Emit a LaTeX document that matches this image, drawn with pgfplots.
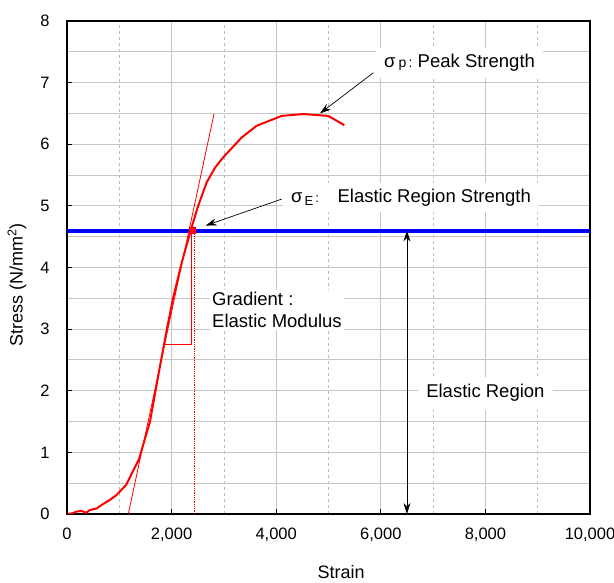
\documentclass[border=0pt]{standalone}
\usepackage{pgfplots}
\pgfplotsset{compat=1.18}
\usepackage{fontspec}
\setmainfont{Liberation Sans}
\usetikzlibrary{arrows.meta}
\newcommand{\annfont}{\fontsize{18.5}{22}\selectfont}
\begin{document}
\begin{tikzpicture}
\path[use as bounding box] (-67pt,-69pt) rectangle (547pt,514pt);
\begin{axis}[
  at={(0,0)}, anchor=south west,
  scale only axis, width=523pt, height=493pt,
  xmin=0, xmax=10000, ymin=0, ymax=8,
  xtick={0,2000,4000,6000,8000,10000}, minor x tick num=1,
  ytick={0,1,2,3,4,5,6,7,8}, minor y tick num=1,
  scaled x ticks=false,
  /pgf/number format/1000 sep={,},
  /pgf/number format/assume math mode=true,
  tick align=inside, major tick length=5pt, minor tick length=0pt,
  xtick pos=bottom, ytick pos=left,
  axis line style={line width=1.6pt},
  major tick style={black, line width=0.8pt},
  grid=both,
  major grid style={gray!45, line width=0.9pt},
  minor y grid style={gray!45, line width=0.9pt},
  minor x grid style={gray!50, dashed, line width=0.6pt},
  ticklabel style={font=\fontsize{16.5}{18}\selectfont},
  xticklabel style={yshift=-10pt},
  yticklabel style={xshift=-14pt},
  xlabel={Strain},
  ylabel={Stress (N/mm\textsuperscript{2})},
  label style={font=\fontsize{18}{20}\selectfont},
  xlabel style={at={(axis description cs:0.524,0)}, anchor=center, yshift=-58pt},
  ylabel style={at={(axis description cs:0,0.4645)}, anchor=center, yshift=50pt},
  clip=true,
]
% elastic region strength
\addplot[blue, line width=4pt] coordinates {(0,4.6) (10000,4.6)};
% tangent line
\addplot[red, line width=0.8pt] coordinates {(1172,0) (2810,6.49)};
% gradient triangle
\addplot[red, line width=0.8pt] coordinates {(1866,2.75) (2385,2.75) (2385,4.6)};
% dotted vertical
\addplot[red, densely dotted, line width=0.8pt] coordinates {(2430,0) (2430,4.6)};
% stress-strain curve
\addplot[red, line width=2pt] coordinates {
(0,0) (100,0.01) (185,0.04) (281,0.05) (363,0.02) (440,0.065) (568,0.09)
(631,0.13) (822,0.23) (950,0.31) (1128,0.47) (1377,0.89) (1587,1.5)
(1778,2.4) (1906,2.98) (2033,3.52) (2200,4.1) (2365,4.6) (2500,4.98)
(2670,5.38) (2830,5.62) (2989,5.79) (3340,6.11) (3627,6.30) (4105,6.46) (4518,6.49)
(4996,6.46) (5302,6.31)};
\addplot[red, only marks, mark=square*, mark size=3pt] coordinates {(2395,4.6)};
% elastic region double arrow
\addplot[black, line width=0.8pt, {Stealth[length=11pt,width=7pt]}-{Stealth[length=11pt,width=7pt]}] coordinates {(6500,4.6) (6500,0)};
% annotation arrows
\draw[black, line width=0.7pt, -{Stealth[length=11pt,width=7pt]}] (axis cs:5857,7.16) -- (axis cs:4837,6.50);
\draw[black, line width=0.7pt, -{Stealth[length=11pt,width=7pt]}] (axis cs:4105,5.11) -- (axis cs:2652,4.68);
% labels
\node[fill=white, inner xsep=8pt, inner ysep=6pt, font=\annfont] at (axis cs:7505,7.32)
  {σ\,{\fontsize{14}{14}\selectfont p\,:}\ Peak Strength};
\node[fill=white, inner xsep=8pt, inner ysep=6pt, font=\annfont] at (axis cs:6577,5.14)
  {σ{\fontsize{13}{13}\selectfont\raisebox{-3pt}{\,E}\,:}\quad Elastic Region Strength};
\node[fill=white, inner sep=2pt, anchor=west, align=left, font=\fontsize{18.5}{22}\selectfont] at (axis cs:2734,3.31)
  {Gradient :\\Elastic Modulus};
\node[fill=white, inner xsep=8pt, inner ysep=8pt, font=\annfont] at (axis cs:8000,1.96) {Elastic Region};
\end{axis}
\end{tikzpicture}
\end{document}
